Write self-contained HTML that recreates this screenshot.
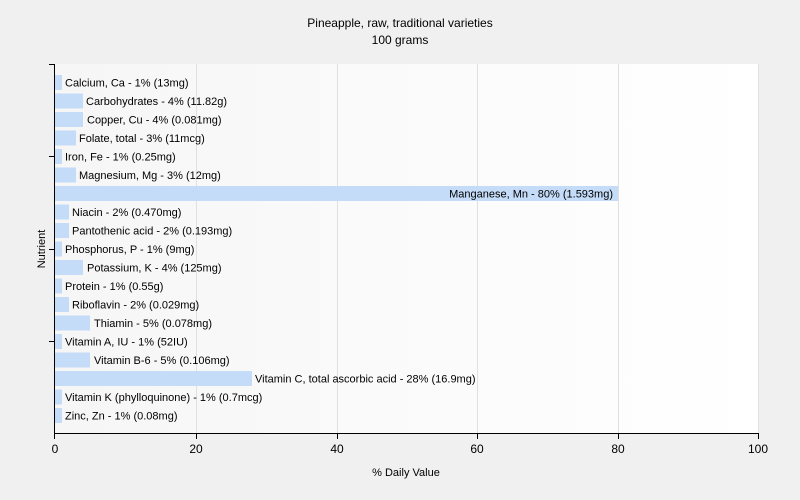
<!DOCTYPE html>
<html><head><meta charset="utf-8"><style>
body{margin:0;background:#f0f0f0;}
svg{display:block;font-family:"Liberation Sans",sans-serif;font-size:11px;fill:#000;}
</style></head><body>
<svg width="800" height="500" xmlns="http://www.w3.org/2000/svg">
<defs><linearGradient id="g" x1="0" y1="0" x2="1" y2="0"><stop offset="0" stop-color="#f6f6f6"/><stop offset="1" stop-color="#ffffff"/></linearGradient></defs>
<rect width="800" height="500" fill="#f0f0f0"/>
<rect x="55" y="64" width="703" height="369" fill="url(#g)"/>
<g stroke="#e0e0e0" stroke-width="1">
<line x1="196.5" y1="64" x2="196.5" y2="433"/><line x1="337.5" y1="64" x2="337.5" y2="433"/><line x1="477.5" y1="64" x2="477.5" y2="433"/><line x1="618.5" y1="64" x2="618.5" y2="433"/><line x1="758.5" y1="64" x2="758.5" y2="433"/>
</g>
<text x="400" y="27" text-anchor="middle" font-size="12">Pineapple, raw, traditional varieties</text>
<text x="400" y="44" text-anchor="middle" font-size="12">100 grams</text>
<g fill="#c4dcf8">
<rect x="55" y="75" width="7" height="15"/>
<rect x="55" y="93.5" width="28" height="15"/>
<rect x="55" y="112" width="28" height="15"/>
<rect x="55" y="130.5" width="21" height="15"/>
<rect x="55" y="149" width="7" height="15"/>
<rect x="55" y="167.5" width="21" height="15"/>
<rect x="55" y="186" width="563" height="15"/>
<rect x="55" y="204.5" width="14" height="15"/>
<rect x="55" y="223" width="14" height="15"/>
<rect x="55" y="241.5" width="7" height="15"/>
<rect x="55" y="260" width="28" height="15"/>
<rect x="55" y="278.5" width="7" height="15"/>
<rect x="55" y="297" width="14" height="15"/>
<rect x="55" y="315.5" width="35" height="15"/>
<rect x="55" y="334" width="7" height="15"/>
<rect x="55" y="352.5" width="35" height="15"/>
<rect x="55" y="371" width="197" height="15"/>
<rect x="55" y="389.5" width="7" height="15"/>
<rect x="55" y="408" width="7" height="15"/>
</g>
<g>
<text x="65" y="86.5">Calcium, Ca - 1% (13mg)</text>
<text x="86" y="105">Carbohydrates - 4% (11.82g)</text>
<text x="87" y="123.5">Copper, Cu - 4% (0.081mg)</text>
<text x="79" y="142">Folate, total - 3% (11mcg)</text>
<text x="65" y="160.5">Iron, Fe - 1% (0.25mg)</text>
<text x="79" y="179">Magnesium, Mg - 3% (12mg)</text>
<text x="613" y="197.5" text-anchor="end">Manganese, Mn - 80% (1.593mg)</text>
<text x="72" y="216">Niacin - 2% (0.470mg)</text>
<text x="72" y="234.5">Pantothenic acid - 2% (0.193mg)</text>
<text x="65" y="253">Phosphorus, P - 1% (9mg)</text>
<text x="87" y="271.5">Potassium, K - 4% (125mg)</text>
<text x="65" y="290">Protein - 1% (0.55g)</text>
<text x="72" y="308.5">Riboflavin - 2% (0.029mg)</text>
<text x="94" y="327">Thiamin - 5% (0.078mg)</text>
<text x="65" y="345.5">Vitamin A, IU - 1% (52IU)</text>
<text x="94" y="364">Vitamin B-6 - 5% (0.106mg)</text>
<text x="255" y="382.5">Vitamin C, total ascorbic acid - 28% (16.9mg)</text>
<text x="65" y="401">Vitamin K (phylloquinone) - 1% (0.7mcg)</text>
<text x="65" y="419.5">Zinc, Zn - 1% (0.08mg)</text>
</g>
<g stroke="#000" stroke-width="1">
<line x1="54.5" y1="64" x2="54.5" y2="434"/>
<line x1="54" y1="433.5" x2="758" y2="433.5"/>
<line x1="49" y1="64.5" x2="55" y2="64.5"/>
<line x1="49" y1="156.5" x2="55" y2="156.5"/>
<line x1="49" y1="249.5" x2="55" y2="249.5"/>
<line x1="49" y1="341.5" x2="55" y2="341.5"/>
<line x1="54.5" y1="433" x2="54.5" y2="439"/>
<line x1="196.5" y1="433" x2="196.5" y2="439"/>
<line x1="337.5" y1="433" x2="337.5" y2="439"/>
<line x1="477.5" y1="433" x2="477.5" y2="439"/>
<line x1="618.5" y1="433" x2="618.5" y2="439"/>
<line x1="758.5" y1="433" x2="758.5" y2="439"/>
</g>
<g font-size="12" text-anchor="middle">
<text x="55" y="453">0</text><text x="196" y="453">20</text><text x="337" y="453">40</text><text x="477" y="453">60</text><text x="618" y="453">80</text><text x="758" y="453">100</text>
</g>
<text x="406" y="476" text-anchor="middle">% Daily Value</text>
<text transform="translate(45,249) rotate(-90)" text-anchor="middle">Nutrient</text>
</svg>
</body></html>
